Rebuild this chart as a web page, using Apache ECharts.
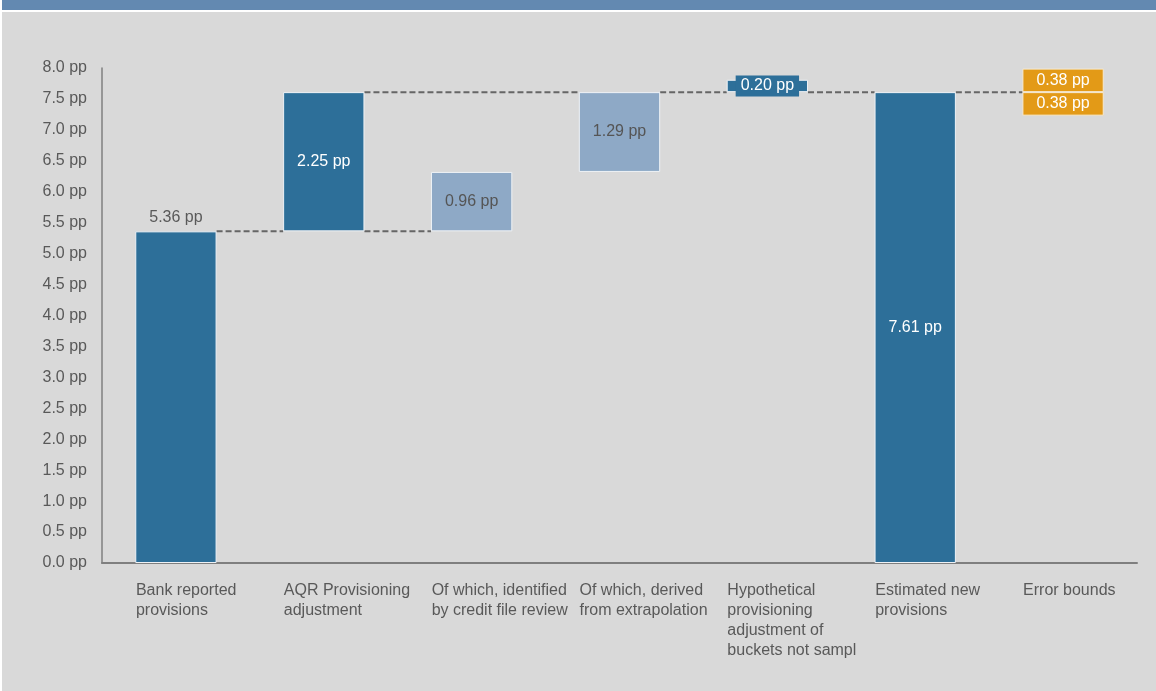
<!DOCTYPE html>
<html>
<head>
<meta charset="utf-8">
<script src="https://cdn.jsdelivr.net/npm/echarts@6/dist/echarts.min.js"></script>
<style>
  html, body { margin: 0; padding: 0; background: #ffffff; }
  #chart { width: 1156px; height: 691px; }
</style>
</head>
<body>
<div id="chart"></div>
<script>
// Provisioning waterfall (percentage points)
const categories = [
  'Bank reported\nprovisions',
  'AQR Provisioning\nadjustment',
  'Of which, identified\nby credit file review',
  'Of which, derived\nfrom extrapolation',
  'Hypothetical\nprovisioning\nadjustment of\nbuckets not sampl',
  'Estimated new\nprovisions',
  'Error bounds'
];
// invisible offset under each floating bar
const baseValues = [0, 5.36, 5.36, 6.32, 7.61, 0, 7.23];
// visible step heights
const stepValues = [5.36, 2.25, 0.96, 1.29, 0.20, 7.61, null];
// which steps are drawn in the lighter "of which" shade
const stepShade = ['dark', 'dark', 'light', 'light', 'dark', 'dark', null];
// error band around the estimate (below / above)
const errorLower = [null, null, null, null, null, null, 0.38];
const errorUpper = [null, null, null, null, null, null, 0.38];
// dashed connectors: [from category, to category, level]
const connectors = [
  [0, 1, 5.36],
  [1, 2, 5.36],
  [1, 3, 7.61],
  [3, 4, 7.61],
  [4, 5, 7.61],
  [5, 6, 7.61]
];

const DARK = '#2d6f99';
const LIGHT = '#8ea9c6';
const ORANGE = '#e39a17';
const TEXT = '#595959';
const FONT = '"Liberation Sans", Arial, sans-serif';
const BAR_FRAC = 0.55;

const chart = echarts.init(document.getElementById('chart'), null, { renderer: 'canvas' });

const fmt = v => v.toFixed(2) + ' pp';

const stepData = stepValues.map((v, i) => {
  if (v == null) return '-';
  const light = stepShade[i] === 'light';
  const item = {
    value: v,
    itemStyle: { color: light ? LIGHT : DARK },
    label: {
      show: true,
      position: 'inside',
      color: light ? '#555555' : '#ffffff',
      formatter: () => fmt(v)
    }
  };
  if (i === 0) {
    item.label.position = 'top';
    item.label.color = TEXT;
    item.label.distance = 6;
  }
  if (i === 4) {
    item.label.backgroundColor = DARK;
    item.label.padding = [3, 5, 2, 5];
  }
  return item;
});

const option = {
  backgroundColor: 'transparent',
  animation: false,
  textStyle: { fontFamily: FONT },
  graphic: [
    { type: 'rect', shape: { x: 2, y: 0, width: 1154, height: 10 }, style: { fill: '#6389b1' }, z: -10 },
    { type: 'rect', shape: { x: 2, y: 12, width: 1154, height: 679 }, style: { fill: '#d9d9d9' }, z: -10 }
  ],
  grid: { left: 102, right: 19, top: 68, bottom: 128, containLabel: false },
  xAxis: {
    type: 'category',
    data: categories,
    axisLine: { lineStyle: { color: '#7f7f7f', width: 2 } },
    axisTick: { show: false },
    axisLabel: {
      interval: 0,
      align: 'left',
      margin: 18,
      color: TEXT,
      fontSize: 16,
      lineHeight: 20,
      fontFamily: FONT,
      padding: [0, 0, 0, -40]
    }
  },
  yAxis: {
    type: 'value',
    min: 0,
    max: 8,
    interval: 0.5,
    axisLine: { show: true, lineStyle: { color: '#7f7f7f', width: 1.5 } },
    axisTick: { show: false },
    splitLine: { show: false },
    axisLabel: {
      color: TEXT,
      fontSize: 16,
      margin: 15,
      fontFamily: FONT,
      formatter: v => v.toFixed(1) + ' pp'
    }
  },
  series: [
    {
      type: 'bar',
      stack: 'w',
      barWidth: (BAR_FRAC * 100) + '%',
      data: baseValues,
      itemStyle: { color: 'transparent' },
      emphasis: { disabled: true },
      silent: true
    },
    {
      type: 'bar',
      stack: 'w',
      data: stepData,
      itemStyle: { borderColor: '#eef2f6', borderWidth: 1 },
      label: { fontSize: 16, fontFamily: FONT }
    },
    {
      type: 'bar',
      stack: 'w',
      data: errorLower.map(v => v == null ? '-' : v),
      itemStyle: { color: ORANGE, borderColor: '#f6ead2', borderWidth: 1 },
      label: { show: true, position: 'inside', color: '#ffffff', fontSize: 16, fontFamily: FONT, formatter: p => fmt(p.value) }
    },
    {
      type: 'bar',
      stack: 'w',
      data: errorUpper.map(v => v == null ? '-' : v),
      itemStyle: { color: ORANGE, borderColor: '#f6ead2', borderWidth: 1 },
      label: { show: true, position: 'inside', color: '#ffffff', fontSize: 16, fontFamily: FONT, formatter: p => fmt(p.value) }
    },
    {
      type: 'custom',
      data: connectors,
      encode: { x: 0, y: 2 },
      silent: true,
      z: 1,
      renderItem: (params, api) => {
        const from = api.value(0);
        const to = api.value(1);
        const level = api.value(2);
        const half = api.size([1, 0])[0] * BAR_FRAC / 2;
        const p1 = api.coord([from, level]);
        const p2 = api.coord([to, level]);
        return {
          type: 'line',
          shape: { x1: p1[0] + half, y1: p1[1], x2: p2[0] - half, y2: p2[1] },
          style: { stroke: '#666666', lineWidth: 2, lineDash: [6, 3] }
        };
      }
    }
  ]
};

chart.setOption(option);
</script>
</body>
</html>
